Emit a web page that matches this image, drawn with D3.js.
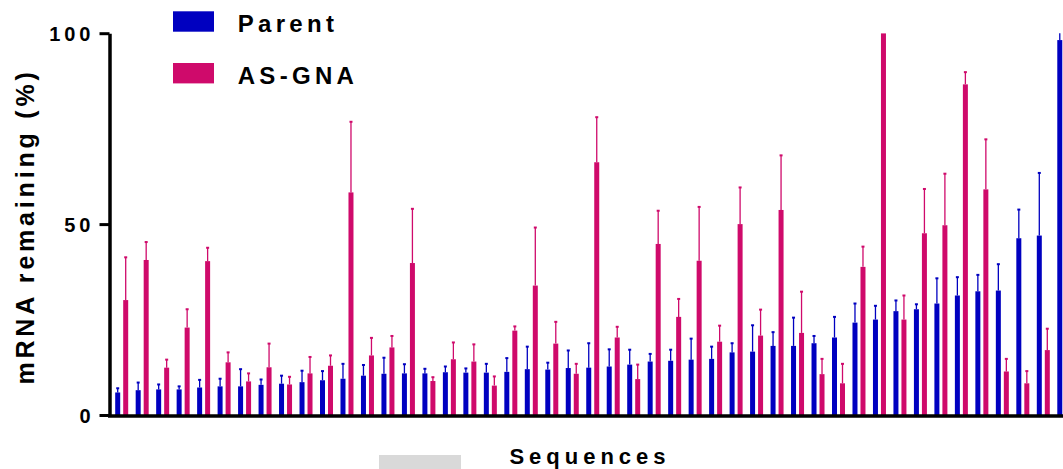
<!DOCTYPE html>
<html>
<head>
<meta charset="utf-8">
<script src="https://cdn.jsdelivr.net/npm/d3@7"></script>
<style>
    body { margin: 0; background: #fff; }
    text { font-family: 'Liberation Sans', Arial, sans-serif; font-weight: bold; fill: #000; }
</style>
</head>
<body>
<div id="chart"></div>
<script>
// series names
const seriesKeys = ['Parent', 'AS-GNA'];
const seriesColors = ['#0000c0', '#cf0a6b'];

// mean values, one per sequence
const parentValues = [5.9, 6.5, 6.7, 6.7, 7.2, 7.5, 7.5, 7.9, 8.2, 8.6, 9.1, 9.5, 10.3, 10.8, 10.9,
    10.9, 11.2, 11.1, 11.1, 11.3, 12.0, 11.9, 12.3, 12.4, 12.7, 13.2, 14.0, 14.2, 14.5, 14.7,
    16.4, 16.6, 18.1, 18.1, 18.8, 20.3, 24.2, 25.0, 27.2, 27.7, 29.2, 31.3, 32.4, 32.6, 46.3, 47.0, 98.2];
const parentErrors = [1.1, 2.0, 1.3, 0.8, 2.0, 2.0, 4.5, 1.4, 2.1, 3.0, 2.4, 3.9, 2.8, 4.2, 2.4,
    1.2, 1.5, 1.1, 2.3, 3.6, 5.9, 1.8, 4.6, 6.4, 4.5, 3.9, 2.0, 2.9, 5.5, 3.2,
    2.4, 6.9, 3.6, 7.4, 1.9, 5.4, 5.0, 3.6, 2.8, 1.3, 6.6, 4.8, 4.3, 6.9, 7.5, 16.4, 4.0];

const asgnaValues = [30.1, 40.6, 12.4, 22.9, 40.3, 13.8, 8.8, 12.5, 8.0, 10.9, 12.9, 58.3, 15.6, 17.7, 39.8,
    8.9, 14.6, 14.0, 7.7, 22.1, 33.9, 18.7, 10.8, 66.2, 20.3, 9.4, 44.8, 25.7, 40.4, 19.2,
    50.0, 20.8, 53.7, 21.5, 10.7, 8.3, 38.8, 100, 25.0, 47.6, 49.7, 86.6, 59.1, 11.4, 8.3, 17.0, 20.0];
const asgnaErrors = [11.2, 4.7, 2.1, 4.8, 3.5, 2.6, 2.1, 6.2, 2.0, 4.3, 2.7, 18.5, 4.6, 3.0, 14.2,
    1.0, 4.4, 4.5, 2.4, 1.1, 15.2, 5.7, 2.6, 11.8, 2.8, 3.8, 8.7, 4.7, 14.1, 4.2,
    9.6, 6.8, 14.3, 10.8, 4.0, 5.1, 5.3, 0, 6.3, 11.6, 13.5, 3.2, 13.1, 3.3, 3.2, 5.6, 3.0];

const yTicks = [0, 50, 100];

const width = 1063;
const height = 469;

// build rows for binding
let data = parentValues.map(function (v, i) {
    return {
        seq: i,
        bars: [
            { key: seriesKeys[0], value: v, err: parentErrors[i] },
            { key: seriesKeys[1], value: asgnaValues[i], err: asgnaErrors[i] }
        ]
    };
});

const svg = d3.select('#chart').append('svg')
    .attr('width', width)
    .attr('height', height);

// scales
const groupStep = 20.48;
const x0 = d3.scaleBand()
    .domain(d3.range(data.length))
    .range([115.2, 115.2 + groupStep * data.length])
    .padding(0);
const x1 = d3.scaleBand().domain(seriesKeys).range([0, 13]).paddingInner(0.375);
const y = d3.scaleLinear().domain([0, 100]).range([415, 33.2]);
const color = d3.scaleOrdinal().domain(seriesKeys).range(seriesColors);

// clip at 100 % like the original
svg.append('clipPath').attr('id', 'plot-clip')
    .append('rect')
    .attr('x', 0).attr('y', y(100))
    .attr('width', width).attr('height', y(0) - y(100));

let plot = svg.append('g').attr('clip-path', 'url(#plot-clip)');

let groups = plot.selectAll('.group').data(data).enter().append('g')
    .classed('group', true)
    .attr('transform', function (d) { return 'translate(' + x0(d.seq) + ',0)'; });

let bars = groups.selectAll('.bar').data(function (d) { return d.bars; }).enter();

// error bars (upper only)
bars.append('line')
    .attr('x1', function (d) { return x1(d.key) + x1.bandwidth() / 2; })
    .attr('x2', function (d) { return x1(d.key) + x1.bandwidth() / 2; })
    .attr('y1', function (d) { return y(d.value); })
    .attr('y2', function (d) { return y(d.value + d.err); })
    .attr('stroke', function (d) { return color(d.key); })
    .attr('stroke-width', 1.3);

bars.append('rect')
    .attr('x', function (d) { return x1(d.key) + x1.bandwidth() / 2 - 1.5; })
    .attr('y', function (d) { return y(d.value + d.err) - 1; })
    .attr('width', 3)
    .attr('height', 2)
    .attr('fill', function (d) { return color(d.key); })
    .style('display', function (d) { return d.err > 0 ? null : 'none'; });

bars.append('rect').classed('bar', true)
    .attr('x', function (d) { return x1(d.key); })
    .attr('width', x1.bandwidth())
    .attr('y', function (d) { return y(d.value); })
    .attr('height', function (d) { return y(0) - y(d.value); })
    .attr('fill', function (d) { return color(d.key); });

// axes
let yAxis = d3.axisLeft(y).tickValues(yTicks).tickSize(10).tickPadding(5).tickSizeOuter(0);
let yAxisG = svg.append('g').attr('transform', 'translate(109.5,0)').call(yAxis);
yAxisG.select('.domain').attr('stroke-width', 3.5).attr('stroke', '#000');
yAxisG.selectAll('.tick line').attr('stroke-width', 3).attr('stroke', '#000');
yAxisG.selectAll('.tick text')
    .style('font-size', '20px')
    .style('letter-spacing', '4px')
    .attr('dy', '0.36em');

svg.append('line')
    .attr('x1', 108).attr('x2', width)
    .attr('y1', y(0) + 1).attr('y2', y(0) + 1)
    .attr('stroke', '#000').attr('stroke-width', 3.5);

// axis titles
svg.append('text')
    .attr('transform', 'translate(34,' + 226.5 + ') rotate(-90)')
    .style('text-anchor', 'middle')
    .style('font-size', '25px')
    .style('letter-spacing', '3.8px')
    .text('mRNA remaining (%)');

svg.append('rect')
    .attr('x', 379).attr('y', 455).attr('width', 82).attr('height', 14)
    .attr('fill', '#d9d9d9');

svg.append('text')
    .attr('x', 590).attr('y', 464)
    .style('text-anchor', 'middle')
    .style('font-size', '22px')
    .style('letter-spacing', '5px')
    .text('Sequences');

// legend
let legend = svg.selectAll('.legend').data(seriesKeys).enter().append('g')
    .classed('legend', true)
    .attr('transform', function (d, i) { return 'translate(173,' + (11.3 + i * 51.7) + ')'; });

legend.append('rect')
    .attr('width', 41).attr('height', 20.4)
    .attr('fill', function (d) { return color(d); });

legend.append('text')
    .attr('x', 64.7).attr('y', 21)
    .style('font-size', '24px')
    .style('letter-spacing', '4.3px')
    .text(function (d) { return d; });
</script>
</body>
</html>
